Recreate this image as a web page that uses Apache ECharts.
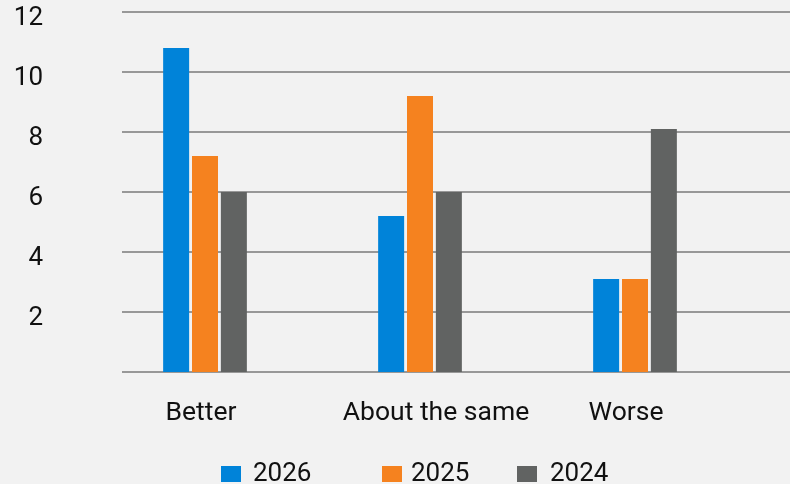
<!DOCTYPE html>
<html>
<head>
<meta charset="utf-8">
<script src="https://cdn.jsdelivr.net/npm/echarts@6/dist/echarts.min.js"></script>
<style>
  html, body { margin: 0; padding: 0; background: #f2f2f2; }
  #chart { width: 790px; height: 484px; }
</style>
</head>
<body>
<div id="chart"></div>
<script>
// Survey answers by year
const categories = ['Better', 'About the same', 'Worse'];
const years = ['2026', '2025', '2024'];
const values2026 = [10.8, 5.2, 3.1];
const values2025 = [7.2, 9.2, 3.1];
const values2024 = [6.0, 6.0, 8.1];
const yTicks = [0, 2, 4, 6, 8, 10, 12];

const colors = ['#0083d9', '#f5821f', '#616362'];
const FONT = 'Roboto';

const chart = echarts.init(document.getElementById('chart'));

// small horizontal nudges per category label
const labelPad = { 'Better': [0, 8, 0, 0], 'About the same': [0, 0, 0, 32], 'Worse': [0, 18, 0, 0] };
const rich = {};
categories.forEach((c, i) => {
  rich['c' + i] = { fontFamily: FONT, fontSize: 26.5, color: '#111', padding: labelPad[c] };
});

const seriesValues = [values2026, values2025, values2024];

chart.setOption({
  backgroundColor: '#f2f2f2',
  animation: false,
  grid: [
    // gridlines + value labels
    { left: 122, right: 0, top: 12, bottom: 112 },
    // bars + category labels
    { left: 97.5, right: 47.5, top: 12, bottom: 112 }
  ],
  legend: years.map((y, i) => ({
    data: [y],
    left: [216, 377, 512][i],
    top: 456,
    itemWidth: 20,
    itemHeight: 16,
    icon: 'rect',
    textStyle: { fontFamily: FONT, fontSize: 26, color: '#111', padding: [0, 0, 0, [7, 4, 8][i]] }
  })),
  xAxis: [
    { gridIndex: 0, type: 'value', min: 0, max: 1, show: false },
    {
      gridIndex: 1, type: 'category', data: categories,
      axisLine: { show: false }, axisTick: { show: false },
      axisLabel: {
        margin: 28,
        formatter: (v) => '{c' + categories.indexOf(v) + '|' + v + '}',
        rich: rich
      }
    }
  ],
  yAxis: [
    {
      gridIndex: 0, type: 'value', min: yTicks[0], max: yTicks[yTicks.length - 1], interval: 2,
      axisLine: { show: false }, axisTick: { show: false },
      axisLabel: {
        margin: 79,
        formatter: (v) => (v === 0 ? '' : '{n|' + v + '}'),
        rich: { n: { fontFamily: FONT, fontSize: 26, color: '#111', padding: [12, 0, 0, 0] } }
      },
      splitLine: { lineStyle: { color: '#7a7a7a', width: 1.6 } }
    },
    {
      gridIndex: 1, type: 'value', min: yTicks[0], max: yTicks[yTicks.length - 1], interval: 2,
      show: false, splitLine: { show: false }
    }
  ],
  series: years.map((y, i) => ({
    name: y,
    type: 'bar',
    xAxisIndex: 1,
    yAxisIndex: 1,
    data: seriesValues[i],
    barWidth: 26,
    barGap: '11%',
    itemStyle: { color: colors[i] }
  }))
});
</script>
</body>
</html>
